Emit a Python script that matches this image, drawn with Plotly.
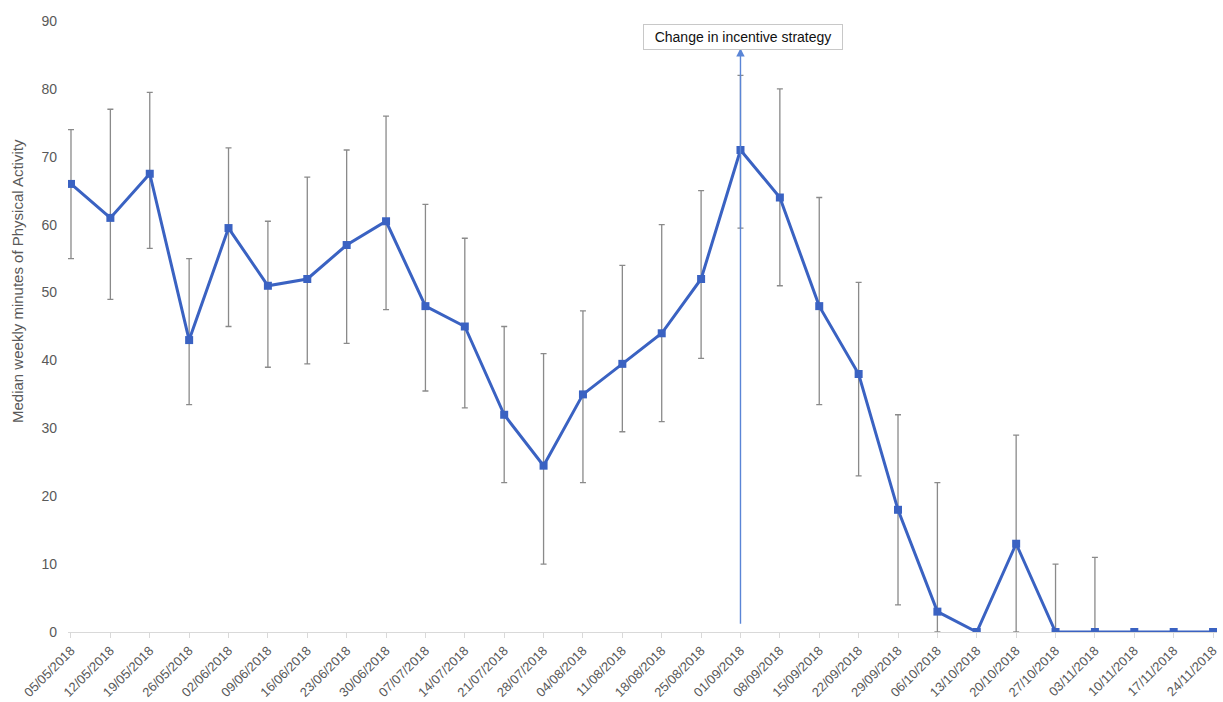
import plotly.graph_objects as go

# Weekly dates (week starting)
weeks = [
    "05/05/2018", "12/05/2018", "19/05/2018", "26/05/2018", "02/06/2018",
    "09/06/2018", "16/06/2018", "23/06/2018", "30/06/2018", "07/07/2018",
    "14/07/2018", "21/07/2018", "28/07/2018", "04/08/2018", "11/08/2018",
    "18/08/2018", "25/08/2018", "01/09/2018", "08/09/2018", "15/09/2018",
    "22/09/2018", "29/09/2018", "06/10/2018", "13/10/2018", "20/10/2018",
    "27/10/2018", "03/11/2018", "10/11/2018", "17/11/2018", "24/11/2018",
]

# Median weekly minutes of physical activity
median_minutes = [
    66, 61, 67.5, 43, 59.5, 51, 52, 57, 60.5, 48,
    45, 32, 24.5, 35, 39.5, 44, 52, 71, 64, 48,
    38, 18, 3, 0, 13, 0, 0, 0, 0, 0,
]

# Upper and lower ends of the interval around each median
upper = [
    74, 77, 79.5, 55, 71.3, 60.5, 67, 71, 76, 63,
    58, 45, 41, 47.3, 54, 60, 65, 82, 80, 64,
    51.5, 32, 22, 0, 29, 10, 11, 0, 0, 0,
]
lower = [
    55, 49, 56.5, 33.5, 45, 39, 39.5, 42.5, 47.5, 35.5,
    33, 22, 10, 22, 29.5, 31, 40.3, 59.5, 51, 33.5,
    23, 4, 0, 0, 0, 0, 0, 0, 0, 0,
]

change_week = "01/09/2018"
change_label = "Change in incentive strategy"
y_title = "Median weekly minutes of Physical Activity"

err_plus = [u - m for u, m in zip(upper, median_minutes)]
err_minus = [m - l for m, l in zip(median_minutes, lower)]

LINE_BLUE = "#3a62c2"
TEXT_GREY = "#595959"
FONT = "Liberation Sans, Arial, sans-serif"

W, H = 1223, 702
ML, MR, MT, MB = 68, 6, 21, 70

fig = go.Figure()

fig.add_trace(go.Scatter(
    x=weeks,
    y=median_minutes,
    mode="lines+markers",
    line=dict(color=LINE_BLUE, width=3),
    marker=dict(symbol="square", size=8, color=LINE_BLUE),
    error_y=dict(
        type="data",
        symmetric=False,
        array=err_plus,
        arrayminus=err_minus,
        color="#8a8a8a",
        thickness=1.3,
        width=3,
    ),
    showlegend=False,
))

# Vertical arrow marking the strategy change
fig.add_annotation(
    x=change_week, y=86, xref="x", yref="y",
    ax=change_week, ay=1, axref="x", ayref="y",
    text="", showarrow=True,
    arrowhead=2, arrowsize=1.2, arrowwidth=1.4, arrowcolor="#5a85d6",
)

# Label box above the arrow
fig.add_annotation(
    x=change_week, y=87.7, xref="x", yref="y",
    text=change_label, showarrow=False,
    xshift=3,
    width=190, height=16,
    font=dict(family=FONT, size=14, color="#111111"),
    bordercolor="#c8c8c8", borderwidth=1, borderpad=4,
    bgcolor="white",
)

# Rotated y-axis title, positioned in pixels relative to the plot area
fig.add_annotation(
    x=(18 - ML) / (W - ML - MR), xanchor="center",
    y=(H - MB - 281) / (H - MT - MB), yanchor="middle",
    xref="paper", yref="paper",
    text=y_title, showarrow=False, textangle=-90,
    font=dict(family=FONT, size=15, color=TEXT_GREY),
)

fig.update_layout(
    width=W, height=H,
    margin=dict(l=ML, r=MR, t=MT, b=MB),
    paper_bgcolor="white",
    plot_bgcolor="white",
    font=dict(family=FONT, color=TEXT_GREY),
    xaxis=dict(
        type="category",
        categoryorder="array",
        categoryarray=weeks,
        range=[-0.076, 29.1],
        tickangle=-45,
        tickfont=dict(size=13, color=TEXT_GREY),
        showgrid=False,
        zeroline=False,
        showline=True,
        linecolor="#d9d9d9",
        linewidth=1,
        ticks="outside",
        ticklen=5,
        tickcolor="#d9d9d9",
        automargin=False,
    ),
    yaxis=dict(
        range=[0, 90],
        tickmode="linear",
        tick0=0,
        dtick=10,
        tickfont=dict(size=14, color=TEXT_GREY),
        showgrid=False,
        zeroline=False,
        showline=False,
        ticks="",
        ticklabelstandoff=10,
        automargin=False,
    ),
)

fig.write_html("out.html")
